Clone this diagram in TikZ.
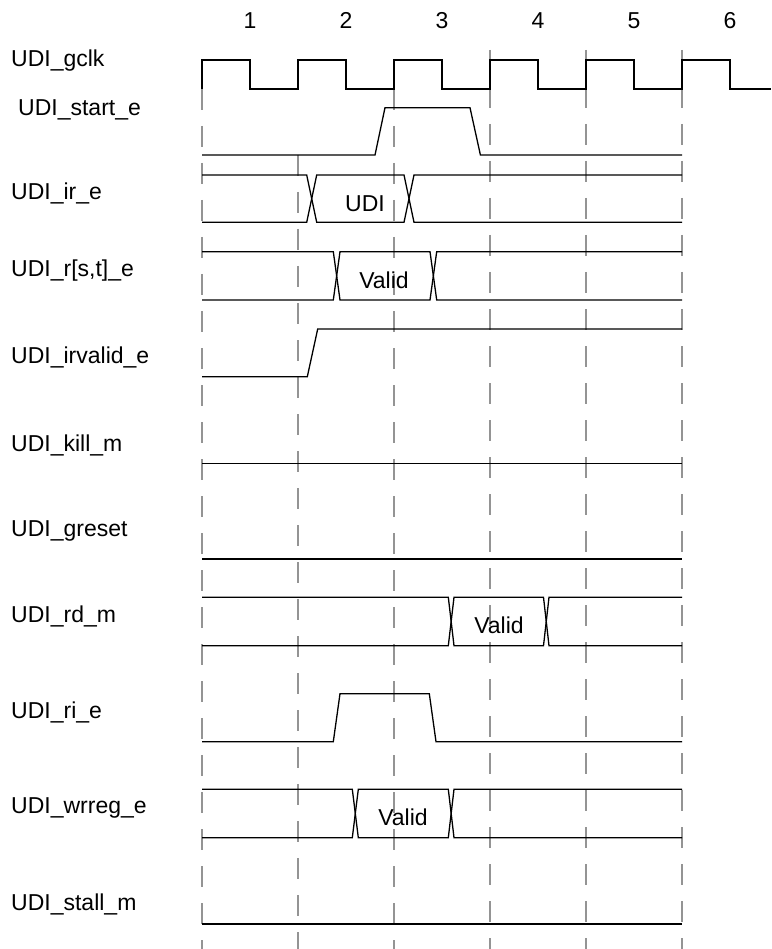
\documentclass[tikz,border=0pt]{standalone}
\usepackage{fontspec}
\setmainfont{Liberation Sans}
\begin{document}
\begin{tikzpicture}[x=1pt,y=-1pt,
  sig/.style={line width=1.3pt, black, line join=miter},
  gridline/.style={line width=1.4pt, color=black!42, dash pattern=on 21pt off 16pt},
  lbl/.style={font=\fontsize{23}{27}\selectfont, inner sep=0pt, anchor=base west},
  txt/.style={font=\fontsize{23}{27}\selectfont, inner sep=0pt, anchor=base}]
\useasboundingbox[fill=white] (0,0) rectangle (771,949);

% cycle numbers
\foreach \k in {1,...,6} {
  \node[txt] (num\k) at ({250+96*(\k-1)},28.3) {\k};
}

% vertical dashed guides
\foreach \x/\ys in {202/89, 298/155, 394/89, 490/50, 586/50, 682/50} {
  \draw[gridline] (\x,\ys) -- (\x,949);
}

% signal labels
\node[lbl] (lgclk)    at (11,66.7)  {UDI\_gclk};
\node[lbl] (lstart)   at (18,116)   {UDI\_start\_e};
\node[lbl] (lir)      at (11,200)   {UDI\_ir\_e};
\node[lbl] (lrst)     at (11,276.5) {UDI\_r[s,t]\_e};
\node[lbl] (lirvalid) at (11,363.3) {UDI\_irvalid\_e};
\node[lbl] (lkill)    at (11,451.7) {UDI\_kill\_m};
\node[lbl] (lgreset)  at (11,536.7) {UDI\_greset};
\node[lbl] (lrd)      at (11,622.7) {UDI\_rd\_m};
\node[lbl] (lri)      at (11,718.3) {UDI\_ri\_e};
\node[lbl] (lwrreg)   at (11,813.3) {UDI\_wrreg\_e};
\node[lbl] (lstall)   at (11,910.7) {UDI\_stall\_m};

% clock
\draw[sig] (202,89) -- (202,60)
  -- (250,60) -- (250,89) -- (298,89) -- (298,60)
  -- (346,60) -- (346,89) -- (394,89) -- (394,60)
  -- (442,60) -- (442,89) -- (490,89) -- (490,60)
  -- (538,60) -- (538,89) -- (586,89) -- (586,60)
  -- (634,60) -- (634,89) -- (682,89) -- (682,60)
  -- (730,60) -- (730,89) -- (771,89);

% UDI_start_e
\draw[sig] (202,155) -- (375,155) -- (385,107.7) -- (470,107.7) -- (480.4,155) -- (682,155);

% UDI_ir_e bus
\draw[sig] (202,175) -- (306.7,175) -- (316.7,222.3) -- (404,222.3) -- (414,175) -- (682,175);
\draw[sig] (202,222.3) -- (306.7,222.3) -- (316.7,175) -- (404,175) -- (414,222.3) -- (682,222.3);
\node[txt] (vir) at (365,211.7) {UDI};

% UDI_r[s,t]_e bus
\draw[sig] (202,251.7) -- (333.3,251.7) -- (340,300) -- (430,300) -- (436.7,251.7) -- (682,251.7);
\draw[sig] (202,300) -- (333.3,300) -- (340,251.7) -- (430,251.7) -- (436.7,300) -- (682,300);
\node[txt] (vrst) at (384,288.3) {Valid};

% UDI_irvalid_e
\draw[sig] (202,376.7) -- (307.3,376.7) -- (317.7,329) -- (682,329);

% UDI_kill_m
\draw[sig] (202,463.3) -- (682,463.3);

% UDI_greset
\draw[sig] (202,559) -- (682,559);

% UDI_rd_m bus
\draw[sig] (202,597.3) -- (448.3,597.3) -- (454,645.7) -- (543.5,645.7) -- (549,597.3) -- (682,597.3);
\draw[sig] (202,645.7) -- (448.3,645.7) -- (454,597.3) -- (543.5,597.3) -- (549,645.7) -- (682,645.7);
\node[txt] (vrd) at (499,633.3) {Valid};

% UDI_ri_e
\draw[sig] (202,741.7) -- (333.3,741.7) -- (340,693.7) -- (429.3,693.7) -- (436,741.7) -- (682,741.7);

% UDI_wrreg_e bus
\draw[sig] (202,789.3) -- (352.3,789.3) -- (358.3,837.7) -- (448.3,837.7) -- (454,789.3) -- (682,789.3);
\draw[sig] (202,837.7) -- (352.3,837.7) -- (358.3,789.3) -- (448.3,789.3) -- (454,837.7) -- (682,837.7);
\node[txt] (vwr) at (403,825) {Valid};

% UDI_stall_m
\draw[sig] (202,924) -- (682,924);
\end{tikzpicture}
\end{document}
